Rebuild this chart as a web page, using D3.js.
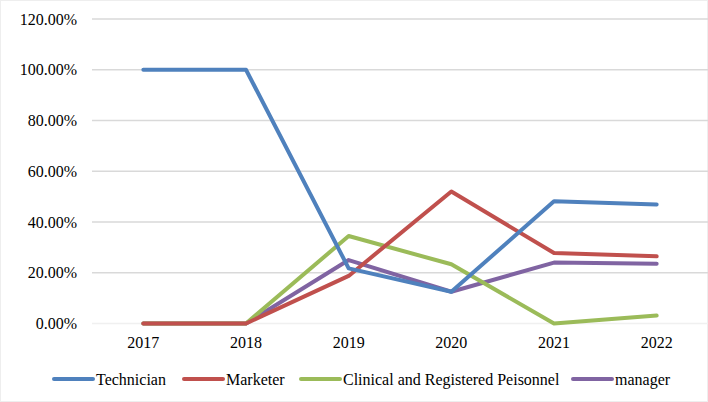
<!DOCTYPE html>
<html>
<head>
<meta charset="utf-8">
<script src="https://cdn.jsdelivr.net/npm/d3@7"></script>
<style>
  body { margin: 0; background: #fff; }
</style>
</head>
<body>
<div id="chart"></div>
<script>
const years = ["2017", "2018", "2019", "2020", "2021", "2022"];
const technician = [1.00, 1.00, 0.2174, 0.125, 0.4815, 0.4688];
const marketer = [0, 0, 0.1875, 0.52, 0.2778, 0.2647];
const clinical = [0, 0, 0.3448, 0.2333, 0, 0.0313];
const manager = [0, 0, 0.25, 0.125, 0.24, 0.2353];
const seriesNames = ["Technician", "Marketer", "Clinical and Registered Peisonnel", "manager"];
const seriesColors = ["#4F81BD", "#C0504D", "#9BBB59", "#8064A2"];
const yTicks = [0, 0.2, 0.4, 0.6, 0.8, 1.0, 1.2];

const width = 708, height = 402;
const margin = { top: 19, right: 0, bottom: 78, left: 92 };

const svg = d3.select("#chart").append("svg")
    .attr("width", width).attr("height", height);

svg.append("rect")
    .attr("x", 0.5).attr("y", 0.5)
    .attr("width", width - 1).attr("height", height - 1)
    .attr("fill", "#fff").attr("stroke", "#eeeeee");

const x = d3.scalePoint()
    .domain(years)
    .range([margin.left, width - margin.right])
    .padding(0.5);

const y = d3.scaleLinear()
    .domain([0, 1.2])
    .range([height - margin.bottom - 0.5, margin.top]);

// gridlines
svg.append("g")
    .selectAll("line")
    .data(yTicks)
    .join("line")
    .attr("x1", margin.left).attr("x2", width - margin.right)
    .attr("y1", d => y(d)).attr("y2", d => y(d))
    .attr("stroke", d => d === 0 ? "#f0f0f0" : "#d9d9d9")
    .attr("stroke-width", 1.3);

// y labels
svg.append("g")
    .selectAll("text")
    .data(yTicks)
    .join("text")
    .attr("x", 77)
    .attr("y", d => y(d) + 5.5)
    .attr("text-anchor", "end")
    .attr("font-family", "Liberation Serif")
    .attr("font-size", 16)
    .text(d => (d * 100).toFixed(2) + "%");

// x labels
svg.append("g")
    .selectAll("text")
    .data(years)
    .join("text")
    .attr("x", d => x(d))
    .attr("y", 348)
    .attr("text-anchor", "middle")
    .attr("font-family", "Liberation Serif")
    .attr("font-size", 16)
    .text(d => d);

const allSeries = [technician, marketer, clinical, manager];
const line = d3.line()
    .x((d, i) => x(years[i]))
    .y(d => y(d));

// draw in reverse so Technician ends up on top like the original
const order = [3, 2, 1, 0];
svg.append("g")
    .selectAll("path")
    .data(order)
    .join("path")
    .attr("d", i => line(allSeries[i]))
    .attr("fill", "none")
    .attr("stroke", i => seriesColors[i])
    .attr("stroke-width", 4)
    .attr("stroke-linejoin", "round")
    .attr("stroke-linecap", "round");

// legend
const legendX = [54, 184, 301, 573];
const lg = svg.append("g");
seriesNames.forEach((name, i) => {
    lg.append("line")
        .attr("x1", legendX[i]).attr("x2", legendX[i] + 39)
        .attr("y1", 379).attr("y2", 379)
        .attr("stroke", seriesColors[i])
        .attr("stroke-width", 4)
        .attr("stroke-linecap", "round");
    lg.append("text")
        .attr("x", legendX[i] + 42)
        .attr("y", 384.5)
        .attr("font-family", "Liberation Serif")
        .attr("font-size", 16)
        .text(name);
});
</script>
</body>
</html>
